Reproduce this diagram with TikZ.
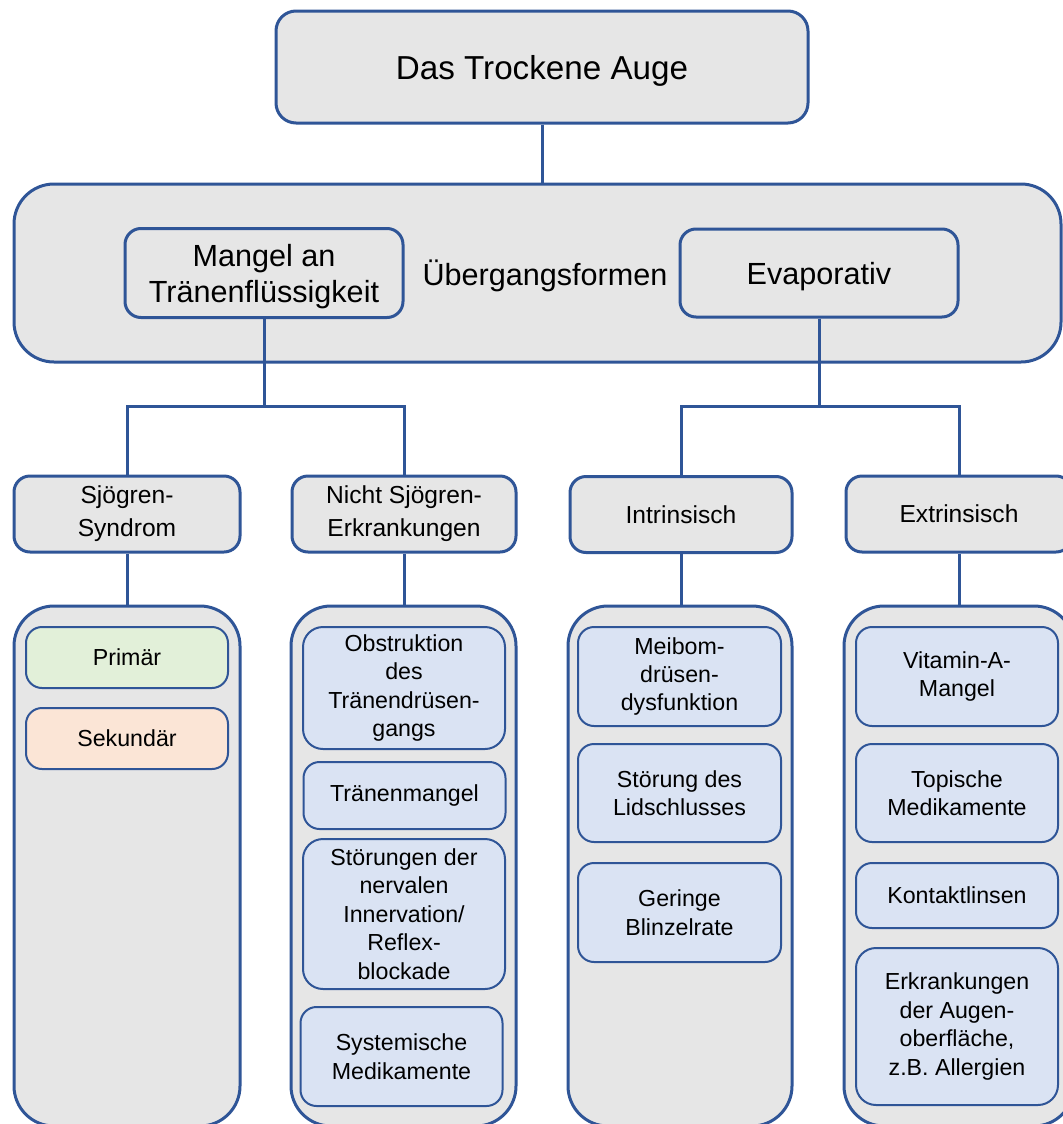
\documentclass[tikz,border=0pt]{standalone}
\usepackage{fontspec}
\setmainfont{Liberation Sans}
\usetikzlibrary{positioning}

\definecolor{rahmen}{HTML}{2F5597}
\definecolor{grau}{HTML}{E6E6E6}
\definecolor{hellblau}{HTML}{DAE3F3}
\definecolor{hellgruen}{HTML}{E2F0D9}
\definecolor{hellrot}{HTML}{FBE5D6}

\begin{document}
\begin{tikzpicture}[x=0.5pt, y=-0.5pt, line width=1.5pt,
    box/.style={draw=rahmen, fill=grau, rounded corners=8pt, align=center, inner sep=0pt},
    haupt/.style={box, rounded corners=10pt, text depth=0pt, font=\fontsize{16.6}{20}\selectfont},
    gruppe/.style={box, rounded corners=8pt, text depth=0pt, font=\fontsize{15.3}{18}\selectfont},
    stufe/.style={box, minimum height=38pt, font=\fontsize{12.3}{16.5}\selectfont},
    spalte/.style={draw=rahmen, fill=grau, rounded corners=20pt, minimum height=260pt},
    blatt/.style={draw=rahmen, fill=hellblau, line width=1pt, rounded corners=8pt, align=center,
      inner sep=0pt, minimum width=101pt, font=\fontsize{11.6}{14.2}\selectfont},
    linie/.style={draw=rahmen, line width=1.5pt}]
    \path[use as bounding box] (0,0) rectangle (1063,1124);
    \clip (0,0) rectangle (1063,1124);

    % Oberbegriff
    \node[haupt, minimum width=266pt, minimum height=56pt] (auge) at (542,67) {Das Trockene Auge};

    % Hauptformen
    \node[box, rounded corners=20pt, minimum width=523.5pt, minimum height=89pt] (formen) at (537.5,273) {};
    \node[gruppe, minimum width=139pt, minimum height=44.5pt] (mangel) at (264,273) {Mangel an\\Tränenflüssigkeit};
    \node[gruppe, minimum width=139pt, minimum height=44pt] (evap) at (819,273) {Evaporativ};
    \node[text depth=0pt, font=\fontsize{15.3}{18}\selectfont] (ueber) at (545,273) {Übergangsformen};
    \path[linie] (auge.south) -- (auge.south |- formen.north);

    % Untergruppen
    \node[stufe, minimum width=113pt] (sjoe) at (127,514) {Sjögren-\\Syndrom};
    \node[stufe, minimum width=112pt] (nsjoe) at (404,514) {Nicht Sjögren-\\Erkrankungen};
    \node[stufe, minimum width=111pt] (intr) at (681,514.5) {Intrinsisch};
    \node[stufe, minimum width=113pt] (extr) at (959,514) {Extrinsisch};

    \coordinate (mverz) at (264,406);
    \coordinate (everz) at (819,406);
    \path[linie] (mangel.south) -- (mverz);
    \path[linie] (sjoe.north) |- (mverz) -| (nsjoe.north);
    \path[linie] (evap.south) -- (everz);
    \path[linie] (intr.north) |- (everz) -| (extr.north);

    % Spalten
    \node[spalte, minimum width=113pt] (sp1) at (127,866) {};
    \node[spalte, minimum width=112.5pt] (sp2) at (403.5,866) {};
    \node[spalte, minimum width=112pt] (sp3) at (680,866) {};
    \node[spalte, minimum width=115pt] (sp4) at (959,866) {};
    \path[linie] (sjoe.south) -- (sjoe.south |- sp1.north);
    \path[linie] (nsjoe.south) -- (nsjoe.south |- sp2.north);
    \path[linie] (intr.south) -- (intr.south |- sp3.north);
    \path[linie] (extr.south) -- (extr.south |- sp4.north);

    % Sjögren
    \node[blatt, fill=hellgruen, minimum height=30.5pt] (prim) at (127,657.5) {Primär};
    \node[blatt, fill=hellrot, minimum height=30.5pt] (sek) at (127,738.5) {Sekundär};

    % Nicht Sjögren
    \node[blatt, minimum height=61pt, rounded corners=10pt] (obst) at (404,688) {Obstruktion\\des\\Tränendrüsen-\\gangs};
    \node[blatt, minimum height=33.5pt] (traen) at (404.5,795.5) {Tränenmangel};
    \node[blatt, minimum height=75pt, rounded corners=10pt] (nerv) at (404,914) {Störungen der\\nervalen\\Innervation/\\Reflex-\\blockade};
    \node[blatt, minimum height=49.5pt] (sys) at (401.5,1056.5) {Systemische\\Medikamente};

    % Intrinsisch
    \node[blatt, minimum width=101.5pt, minimum height=49.5pt] (meib) at (679.5,676.5) {Meibom-\\drüsen-\\dysfunktion};
    \node[blatt, minimum width=101.5pt, minimum height=49pt] (lid) at (679.5,793) {Störung des\\Lidschlusses};
    \node[blatt, minimum width=101.5pt, minimum height=49.5pt] (blinz) at (679.5,912.5) {Geringe\\Blinzelrate};

    % Extrinsisch
    \node[blatt, minimum height=49.5pt] (vit) at (957,676.5) {Vitamin-A-\\Mangel};
    \node[blatt, minimum height=49pt] (topi) at (957,793) {Topische\\Medikamente};
    \node[blatt, minimum height=32.5pt] (kont) at (957,895.5) {Kontaktlinsen};
    \node[blatt, minimum height=78.5pt, rounded corners=10pt] (oberfl) at (957,1026.5) {Erkrankungen\\der Augen-\\oberfläche,\\z.B. Allergien};
\end{tikzpicture}
\end{document}
